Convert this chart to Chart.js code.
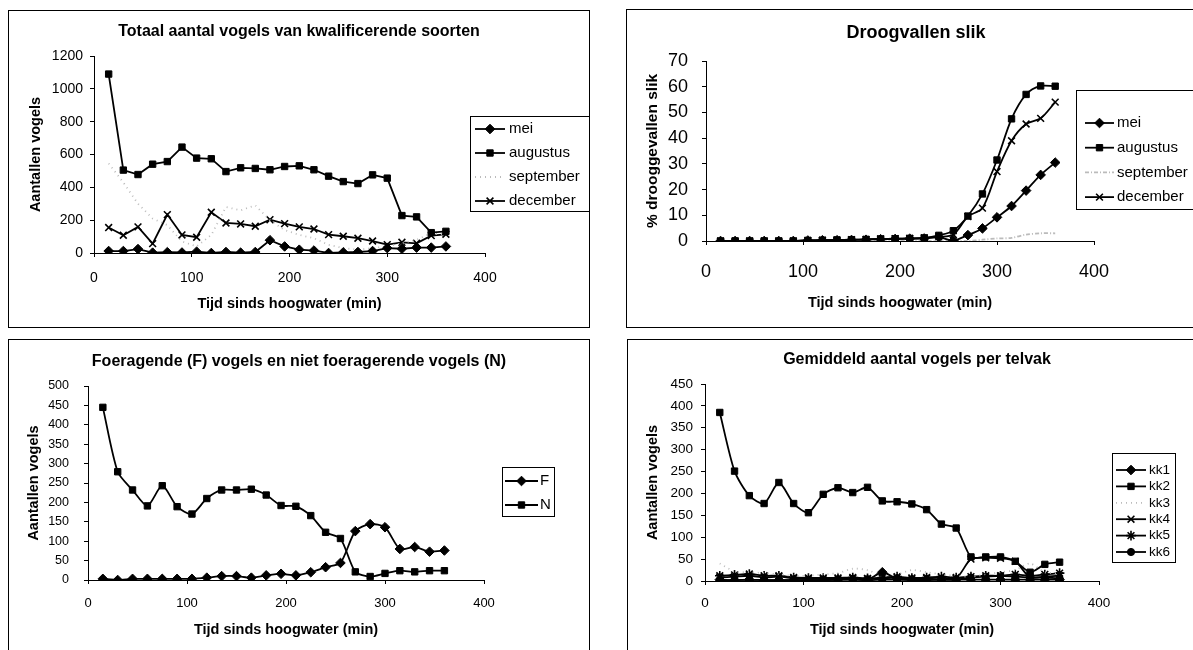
<!DOCTYPE html>
<html>
<head>
<meta charset="utf-8">
<script src="https://cdn.jsdelivr.net/npm/chart.js@4.4.1/dist/chart.umd.min.js"></script>
<style>
  html, body { margin: 0; padding: 0; background: #fff; overflow: hidden; width: 1193px; height: 650px; }
  .frame { position: absolute; border: 1px solid #000; box-sizing: border-box; }
  canvas { position: absolute; }
</style>
</head>
<body>
<div class="frame" style="left:8px;top:10px;width:582px;height:318px"></div>
<div class="frame" style="left:626px;top:9px;width:600px;height:319px"></div>
<div class="frame" style="left:8px;top:339px;width:582px;height:340px"></div>
<div class="frame" style="left:627px;top:339px;width:600px;height:340px"></div>
<canvas id="c1" width="582" height="318" style="left:8px;top:10px"></canvas>
<canvas id="c2" width="580" height="319" style="left:626px;top:9px"></canvas>
<canvas id="c3" width="582" height="311" style="left:8px;top:339px"></canvas>
<canvas id="c4" width="580" height="311" style="left:627px;top:339px"></canvas>
<script>
// tijd sinds hoogwater (min), same for all four charts
const tijd = [15, 30, 45, 60, 75, 90, 105, 120, 135, 150, 165, 180, 195, 210, 225, 240, 255, 270, 285, 300, 315, 330, 345, 360];

// chart 1: totaal aantal vogels
const totMei = [12, 12, 24, 2, 5, 3, 8, 0, 6, 2, 6, 78, 40, 20, 15, 0, 4, 6, 12, 30, 26, 33, 33, 40];
const totAugustus = [1090, 505, 478, 541, 557, 645, 578, 574, 496, 519, 515, 507, 527, 531, 507, 468, 435, 423, 476, 456, 228, 220, 124, 132];
const totSeptember = [545, 430, 300, 210, 170, 70, 40, 110, 280, 260, 290, 200, 140, 110, 90, 50, 30, 20, 30, 40, 60, 80, 120, 110];
const totDecember = [155, 108, 159, 57, 234, 110, 96, 248, 183, 177, 163, 203, 179, 159, 146, 112, 102, 90, 73, 51, 65, 59, 106, 114];

// chart 2: % drooggevallen slik
const slikMei = [0, 0, 0, 0, 0, 0, 0.2, 0.3, 0.3, 0.4, 0.5, 0.7, 0.8, 0.9, 1, 1.5, 0.2, 2.3, 4.9, 9.2, 13.6, 19.6, 25.7, 30.5];
const slikAugustus = [0, 0, 0, 0, 0, 0, 0.2, 0.3, 0.4, 0.5, 0.6, 0.8, 0.9, 1, 1.2, 2.2, 4, 9.7, 18.3, 31.5, 47.5, 57, 60.3, 60.2];
const slikSeptember = [0, 0, 0, 0, 0, 0, 0, 0, 0, 0, 0, 0, 0, 0, 0, 0, 0, 0, 0.5, 1, 1.2, 2.5, 3, 3];
const slikDecember = [0, 0, 0, 0, 0, 0, 0.2, 0.3, 0.4, 0.5, 0.6, 0.8, 0.9, 1, 1.2, 1.6, 2.5, 9.5, 12.8, 27, 39, 45.5, 47.7, 54];

// chart 3: foeragerend (F) en niet foeragerend (N)
const foerF = [3, 0, 3, 3, 3, 3, 3, 6, 10, 10, 6, 12, 16, 12, 20, 33, 44, 126, 144, 136, 80, 85, 73, 76];
const foerN = [445, 279, 232, 191, 243, 189, 170, 210, 232, 232, 234, 219, 192, 190, 166, 123, 107, 21, 9, 17, 24, 21, 24, 24];

// chart 4: gemiddeld aantal per telvak
const kk1 = [3, 2, 3, 2, 2, 2, 2, 2, 3, 4, 3, 20, 5, 3, 3, 3, 3, 3, 3, 3, 3, 3, 3, 3];
const kk2 = [385, 251, 195, 177, 225, 177, 156, 198, 213, 202, 214, 183, 181, 176, 163, 130, 121, 55, 55, 55, 45, 20, 38, 43];
const kk3 = [40, 22, 20, 18, 15, 12, 12, 15, 18, 28, 25, 12, 15, 25, 20, 15, 12, 10, 15, 20, 25, 40, 20, 18];
const kk4 = [8, 10, 12, 8, 10, 6, 5, 5, 5, 6, 5, 6, 8, 5, 6, 8, 6, 50, 53, 52, 45, 8, 10, 12];
const kk5 = [12, 14, 16, 12, 12, 8, 7, 7, 7, 8, 6, 8, 10, 7, 8, 10, 8, 10, 12, 12, 15, 12, 15, 18];
const kk6 = [2, 2, 3, 2, 2, 2, 2, 2, 3, 3, 2, 3, 3, 2, 2, 3, 3, 8, 10, 12, 10, 8, 8, 6];

Chart.defaults.font.family = 'Arial, "Liberation Sans", sans-serif';
Chart.defaults.color = "#000";
Chart.defaults.animation = false;

// marker styles used in the excel sheet
const stijl = {
  ruit: { pointStyle: "rectRot", pointRadius: 4.8 },
  vierkant: { pointStyle: "rect", pointRadius: 4.5 },
  kruis: { pointStyle: "crossRot", pointRadius: 4.8, pointBorderWidth: 1.6 },
  ster: { pointStyle: "star", pointRadius: 4.8, pointBorderWidth: 1.6 },
  rond: { pointStyle: "circle", pointRadius: 3.6 },
  stippel: { pointRadius: 0, borderColor: "#bbb", borderDash: [1, 4] },
};

function serie(label, values, extra, tension) {
  return Object.assign(
    {
      label: label,
      data: tijd.map((t, i) => ({ x: t, y: values[i] })),
      borderColor: "#000",
      backgroundColor: "#000",
      pointBackgroundColor: "#000",
      pointBorderColor: "#000",
      borderWidth: 1.8,
      pointBorderWidth: 1,
      tension: tension,
    },
    extra
  );
}

//TODO: legend box drawn inside the chart like excel does
const boxLegend = {
  id: "boxLegend",
  afterDraw(chart, args, o) {
    let ctx = chart.ctx;
    ctx.save();
    ctx.fillStyle = "#fff";
    ctx.fillRect(o.x, o.y, o.w, o.h);
    ctx.strokeStyle = "#000";
    ctx.lineWidth = 1;
    ctx.strokeRect(o.x + 0.5, o.y + 0.5, o.w, o.h);
    ctx.font = o.size + 'px Arial, "Liberation Sans", sans-serif';
    ctx.textBaseline = "middle";
    chart.data.datasets.forEach((ds, i) => {
      let y = o.y0 + i * o.step;
      ctx.strokeStyle = ds.borderColor;
      ctx.lineWidth = ds.borderWidth;
      ctx.setLineDash(ds.borderDash || []);
      ctx.beginPath();
      ctx.moveTo(o.x1, y);
      ctx.lineTo(o.x2, y);
      ctx.stroke();
      ctx.setLineDash([]);
      if (ds.pointRadius > 0) {
        ctx.fillStyle = "#000";
        ctx.strokeStyle = "#000";
        ctx.lineWidth = ds.pointBorderWidth;
        Chart.helpers.drawPoint(
          ctx,
          { pointStyle: ds.pointStyle, radius: ds.pointRadius, borderWidth: ds.pointBorderWidth, rotation: 0 },
          (o.x1 + o.x2) / 2,
          y
        );
      }
      ctx.fillStyle = "#000";
      ctx.fillText(ds.label, o.tx, y);
    });
    ctx.restore();
  },
};

function tekenGrafiek(id, datasets, p) {
  let axisGrid = { display: true, drawOnChartArea: false, drawTicks: true, tickLength: 4, color: "#000" };
  return new Chart(document.getElementById(id), {
    type: "line",
    data: { datasets: datasets },
    plugins: [boxLegend],
    options: {
      responsive: false,
      layout: { padding: 0 },
      plugins: {
        legend: { display: false },
        tooltip: { enabled: false },
        title: {
          display: true,
          text: p.title,
          color: "#000",
          font: { size: p.titleSize, weight: "bold", lineHeight: 1 },
          padding: { top: p.titleTop, bottom: p.titleBottom },
        },
        boxLegend: p.legend,
      },
      scales: {
        x: {
          type: "linear",
          min: 0,
          max: 400,
          ticks: { stepSize: 100, padding: p.xPad, font: { size: p.xTick }, maxRotation: 0, callback: (v) => String(v) },
          grid: axisGrid,
          border: { color: "#000", width: 1 },
          title: {
            display: true,
            text: "Tijd sinds hoogwater (min)",
            font: { size: 14.5, weight: "bold", lineHeight: 1 },
            padding: { top: 0, bottom: p.xTitlePad },
          },
          afterFit(s) {
            s.height = p.xH;
          },
        },
        y: {
          min: 0,
          max: p.yMax,
          ticks: { stepSize: p.yStep, padding: p.yPad, font: { size: p.yTick }, callback: (v) => String(v) },
          grid: axisGrid,
          border: { color: "#000", width: 1 },
          title: {
            display: true,
            text: p.yTitle,
            font: { size: p.yTitleSize, weight: "bold", lineHeight: 1 },
            padding: { top: p.yTitlePad, bottom: 0 },
          },
          afterFit(s) {
            s.width = p.yW;
          },
        },
        // empty axis on the right: keeps room for the legend, title stays centred on the frame
        ruimte: {
          type: "linear",
          position: "right",
          display: true,
          grid: { display: false },
          border: { display: false },
          ticks: { display: false },
          afterFit(s) {
            s.width = p.right;
          },
        },
      },
    },
  });
}

tekenGrafiek(
  "c1",
  [
    serie("mei", totMei, stijl.ruit, 0),
    serie("augustus", totAugustus, stijl.vierkant, 0),
    serie("september", totSeptember, stijl.stippel, 0),
    serie("december", totDecember, stijl.kruis, 0),
  ],
  {
    title: "Totaal aantal vogels van kwalificerende soorten",
    titleSize: 16, titleTop: 14, titleBottom: 16,
    yTitle: "Aantallen vogels", yTitleSize: 14.5, yMax: 1200, yStep: 200, yW: 86, yTick: 14, yPad: 7, yTitlePad: 20.75,
    xH: 75, xTick: 14, xPad: 13, xTitlePad: 16.75, right: 105,
    legend: { x: 462, y: 106, w: 119, h: 95, y0: 119, step: 24, x1: 467, x2: 497, tx: 501, size: 15 },
  }
);

tekenGrafiek(
  "c2",
  [
    serie("mei", slikMei, stijl.ruit, 0.3),
    serie("augustus", slikAugustus, stijl.vierkant, 0.3),
    serie("september", slikSeptember, { pointRadius: 0, borderColor: "#bbb", borderDash: [4, 2, 1, 2] }, 0.3),
    serie("december", slikDecember, stijl.kruis, 0.3),
  ],
  {
    title: "Droogvallen slik",
    titleSize: 18, titleTop: 15, titleBottom: 19,
    yTitle: "% drooggevallen slik", yTitleSize: 15.5, yMax: 70, yStep: 10, yW: 80, yTick: 18, yPad: 14, yTitlePad: 19.25,
    xH: 87, xTick: 18, xPad: 16, xTitlePad: 17.75, right: 112,
    legend: { x: 450, y: 81, w: 200, h: 119, y0: 114, step: 24.7, x1: 459, x2: 488, tx: 491, size: 15 },
  }
);

tekenGrafiek(
  "c3",
  [serie("F", foerF, stijl.ruit, 0.25), serie("N", foerN, stijl.vierkant, 0.25)],
  {
    title: "Foeragende (F) vogels en niet foeragerende vogels (N)",
    titleSize: 16, titleTop: 15, titleBottom: 16,
    yTitle: "Aantallen vogels", yTitleSize: 14.5, yMax: 500, yStep: 50, yW: 80, yTick: 12.5, yPad: 15, yTitlePad: 18.75,
    xH: 70, xTick: 13, xPad: 11.5, xTitlePad: 12.75, right: 106,
    legend: { x: 494, y: 128, w: 52, h: 49, y0: 142, step: 24, x1: 497, x2: 530, tx: 532, size: 15 },
  }
);

tekenGrafiek(
  "c4",
  [
    serie("kk1", kk1, stijl.ruit, 0.25),
    serie("kk2", kk2, stijl.vierkant, 0.25),
    serie("kk3", kk3, stijl.stippel, 0.25),
    serie("kk4", kk4, stijl.kruis, 0.25),
    serie("kk5", kk5, stijl.ster, 0.25),
    serie("kk6", kk6, stijl.rond, 0.25),
  ],
  {
    title: "Gemiddeld aantal vogels per telvak",
    titleSize: 16, titleTop: 13, titleBottom: 16,
    yTitle: "Aantallen vogels", yTitleSize: 14.5, yMax: 450, yStep: 50, yW: 78, yTick: 13.5, yPad: 8, yTitlePad: 18.75,
    xH: 69, xTick: 13.5, xPad: 10.25, xTitlePad: 12.75, right: 108,
    legend: { x: 485, y: 114, w: 63, h: 109, y0: 131, step: 16.4, x1: 489, x2: 519, tx: 522, size: 13.5 },
  }
);
</script>
</body>
</html>
